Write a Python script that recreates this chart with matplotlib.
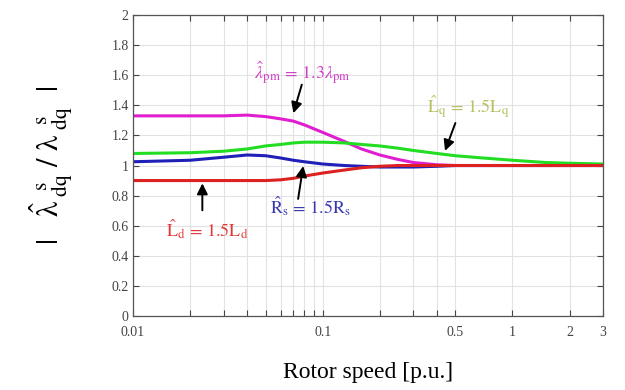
import numpy as np
import matplotlib
matplotlib.use("Agg")
import matplotlib.pyplot as plt
from matplotlib.ticker import FixedLocator, NullFormatter, FixedFormatter

plt.rcParams['font.family'] = ['Liberation Serif', 'DejaVu Serif']
plt.rcParams['mathtext.fontset'] = 'stix'

# rotor speed [p.u.] and flux estimate ratio for each parameter error
speed = [0.01, 0.02, 0.03, 0.04, 0.05, 0.06, 0.07, 0.08, 0.1, 0.13, 0.16,
         0.2, 0.25, 0.3, 0.4, 0.5, 0.7, 1, 1.5, 2, 3]
lam_pm = [1.33, 1.33, 1.33, 1.335, 1.325, 1.31, 1.295, 1.27, 1.22, 1.16, 1.11,
          1.07, 1.04, 1.02, 1.005, 1.0, 1.0, 1.0, 1.0, 1.0, 1.0]
l_q = [1.08, 1.085, 1.095, 1.11, 1.13, 1.14, 1.15, 1.155, 1.155, 1.15, 1.14,
       1.13, 1.115, 1.10, 1.08, 1.065, 1.05, 1.035, 1.02, 1.015, 1.01]
r_s = [1.025, 1.035, 1.055, 1.07, 1.065, 1.05, 1.035, 1.025, 1.01, 1.0, 0.995,
       0.99, 0.99, 0.99, 0.995, 1.0, 1.0, 1.0, 1.0, 1.0, 1.0]
l_d = [0.9, 0.9, 0.9, 0.9, 0.9, 0.905, 0.915, 0.93, 0.95, 0.97, 0.985,
       0.995, 1.0, 1.0, 1.0, 1.0, 1.0, 1.0, 1.0, 1.0, 1.0]

x_ticks = [0.01, 0.02, 0.03, 0.04, 0.05, 0.06, 0.07, 0.08, 0.09, 0.1,
           0.2, 0.3, 0.4, 0.5, 1, 2, 3]
x_labels = ['0.01', '', '', '', '', '', '', '', '', '0.1',
            '', '', '', '0.5', '1', '2', '3']
y_ticks = [0, 0.2, 0.4, 0.6, 0.8, 1, 1.2, 1.4, 1.6, 1.8, 2]
y_labels = ['0', '0.2', '0.4', '0.6', '0.8', '1', '1.2', '1.4', '1.6', '1.8', '2']

fig = plt.figure(figsize=(6.25, 3.9), dpi=100)
ax = fig.add_axes([0.2128, 0.1897, 0.752, 0.7718])

ax.plot(speed, lam_pm, color='#e01ed0', lw=2.2)
ax.plot(speed, l_q, color='#22dd22', lw=2.2)
ax.plot(speed, r_s, color='#2020b8', lw=2.2)
ax.plot(speed, l_d, color='#dd2020', lw=2.2)

ax.set_xscale('log')
ax.set_xlim(0.01, 3)
ax.set_ylim(0, 2)
ax.xaxis.set_major_locator(FixedLocator(x_ticks))
ax.xaxis.set_major_formatter(FixedFormatter(x_labels))
ax.xaxis.set_minor_locator(FixedLocator([]))
ax.xaxis.set_minor_formatter(NullFormatter())
ax.set_yticks(y_ticks)
ax.set_yticklabels(y_labels)
ax.grid(True, color='#e2e2e2', lw=0.8)
ax.tick_params(direction='in', top=True, right=True, labelsize=10,
               length=4, width=0.8, colors='#444444')
ax.tick_params(axis='x', pad=7)
ax.tick_params(axis='y', pad=3)
for s in ax.spines.values():
    s.set_color('#555555')
    s.set_linewidth(0.9)

ax.set_xlabel('Rotor speed [p.u.]', fontsize=17, labelpad=17)
ax.set_ylabel(r'$|\ \ \ \hat{\mathrm{\lambda}}^{\ \ \mathrm{s}}_{\ \mathrm{dq}}\ /\ \mathrm{\lambda}^{\ \ \mathrm{s}}_{\ \mathrm{dq}}\ \ |$',
              fontsize=22, labelpad=26)

arr = dict(arrowstyle='-|>', color='black', lw=1.4, mutation_scale=16)
ax.text(0.0783, 1.62, r'$\hat{\lambda}_{\mathrm{pm}}\,=\,1.3\lambda_{\mathrm{pm}}$',
        color='#d040c8', fontsize=13, ha='center', va='center')
ax.annotate('', xy=(0.0694, 1.33), xytext=(0.0783, 1.555), arrowprops=arr)
ax.text(0.585, 1.39, r'$\hat{\mathrm{L}}_{\mathrm{q}}\,=\,1.5\mathrm{L}_{\mathrm{q}}$',
        color='#b8c060', fontsize=13, ha='center', va='center')
ax.annotate('', xy=(0.436, 1.08), xytext=(0.506, 1.30), arrowprops=arr)
ax.text(0.0247, 0.575, r'$\hat{\mathrm{L}}_{\mathrm{d}}\,=\,1.5\mathrm{L}_{\mathrm{d}}$',
        color='#e03838', fontsize=13, ha='center', va='center')
ax.annotate('', xy=(0.0232, 0.9), xytext=(0.0232, 0.684), arrowprops=arr)
ax.text(0.0865, 0.73, r'$\hat{\mathrm{R}}_{\mathrm{s}}\,=\,1.5\mathrm{R}_{\mathrm{s}}$',
        color='#3838b0', fontsize=13, ha='center', va='center')
ax.annotate('', xy=(0.0793, 1.015), xytext=(0.0738, 0.76), arrowprops=arr)

fig.savefig('out.png', dpi=100)
